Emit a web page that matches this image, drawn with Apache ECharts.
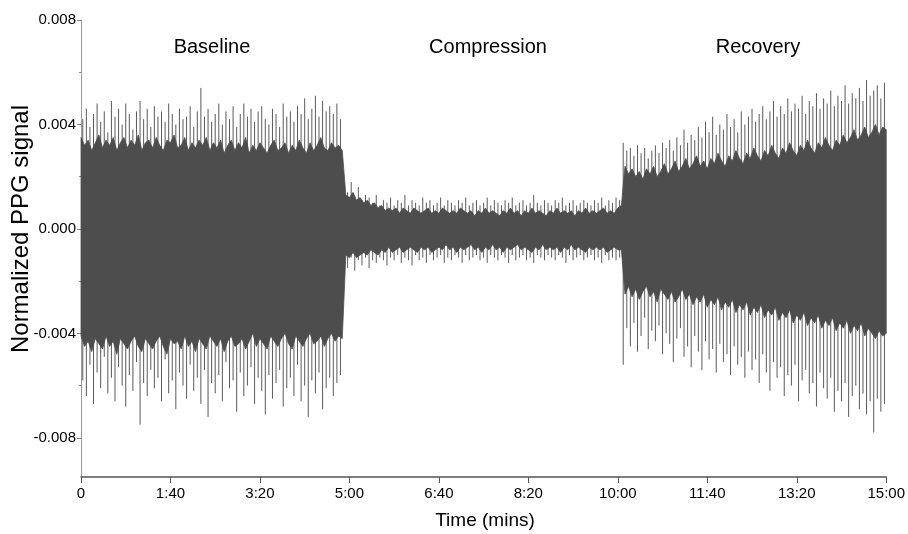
<!DOCTYPE html>
<html>
<head>
<meta charset="utf-8">
<script src="https://cdn.jsdelivr.net/npm/echarts@6/dist/echarts.min.js"></script>
<style>
html,body{margin:0;padding:0;background:#fff;}
#chart{width:908px;height:534px;}
</style>
</head>
<body>
<div id="chart"></div>
<script>
// ---- Data ----
var yTicks = [-0.008, -0.004, 0, 0.004, 0.008];
var yMinorTicks = [-0.006, -0.002, 0.002, 0.006];
var xTickStep = 100; // seconds between time labels (0, 1:40, 3:20 ...)
var phaseLabels = ['Baseline', 'Compression', 'Recovery'];

// Dense dark core band of the signal, one value per 4 s starting at t = 0 s
var coreStart = 0, coreStep = 4;
var baselineCoreHi = [0.0035,0.0032,0.0034,0.0030,0.0033,0.0036,0.0031,0.0034,0.0032,0.0035,
0.0030,0.0033,0.0035,0.0031,0.0034,0.0032,0.0036,0.0030,0.0033,0.0034,
0.0031,0.0035,0.0032,0.0030,0.0034,0.0033,0.0036,0.0031,0.0032,0.0035,
0.0030,0.0033,0.0031,0.0034,0.0032,0.0035,0.0030,0.0033,0.0031,0.0034,
0.0029,0.0032,0.0034,0.0030,0.0033,0.0031,0.0035,0.0029,0.0032,0.0030,
0.0033,0.0031,0.0029,0.0032,0.0034,0.0030,0.0031,0.0033,0.0029,0.0032,
0.0030,0.0034,0.0031,0.0029,0.0033,0.0030,0.0032,0.0035,0.0031,0.0030,
0.0033,0.0031,0.0032,0.0030];
var baselineCoreLo = [-0.0041,-0.0045,-0.0043,-0.0047,-0.0042,-0.0044,-0.0046,-0.0041,-0.0045,-0.0043,
-0.0048,-0.0042,-0.0044,-0.0046,-0.0043,-0.0041,-0.0045,-0.0047,-0.0042,-0.0044,
-0.0046,-0.0043,-0.0041,-0.0045,-0.0048,-0.0042,-0.0044,-0.0043,-0.0046,-0.0041,
-0.0045,-0.0043,-0.0047,-0.0042,-0.0044,-0.0046,-0.0041,-0.0043,-0.0045,-0.0042,
-0.0047,-0.0043,-0.0041,-0.0045,-0.0044,-0.0042,-0.0046,-0.0043,-0.0040,-0.0045,
-0.0042,-0.0044,-0.0046,-0.0041,-0.0043,-0.0045,-0.0042,-0.0040,-0.0044,-0.0046,
-0.0041,-0.0043,-0.0045,-0.0042,-0.0040,-0.0044,-0.0043,-0.0041,-0.0045,-0.0042,
-0.0040,-0.0043,-0.0041,-0.0042];
var compressionCoreHi = [0.0013,0.0012,0.0014,0.0011,0.0012,0.0010,0.0011,0.0009,0.0010,0.0008,
0.0009,0.0007,0.0008,0.0007,0.0008,0.0006,0.0008,0.0007,0.0006,0.0008,
0.0007,0.0006,0.0007,0.0008,0.0006,0.0007,0.0006,0.0008,0.0007,0.0006,
0.0007,0.0006,0.0008,0.0007,0.0006,0.0007,0.0005,0.0007,0.0006,0.0008,
0.0006,0.0007,0.0006,0.0005,0.0007,0.0006,0.0008,0.0006,0.0007,0.0005,
0.0007,0.0006,0.0008,0.0006,0.0007,0.0006,0.0005,0.0007,0.0006,0.0008,
0.0006,0.0007,0.0006,0.0007,0.0005,0.0007,0.0006,0.0008,0.0006,0.0007,
0.0006,0.0007,0.0008,0.0006,0.0007,0.0006,0.0008,0.0009];
var compressionCoreLo = [-0.0010,-0.0011,-0.0009,-0.0011,-0.0010,-0.0009,-0.0010,-0.0008,-0.0009,-0.0010,
-0.0008,-0.0009,-0.0007,-0.0009,-0.0008,-0.0007,-0.0009,-0.0008,-0.0007,-0.0008,
-0.0009,-0.0007,-0.0008,-0.0007,-0.0009,-0.0008,-0.0007,-0.0008,-0.0006,-0.0008,
-0.0007,-0.0009,-0.0007,-0.0008,-0.0007,-0.0006,-0.0008,-0.0007,-0.0009,-0.0007,
-0.0008,-0.0006,-0.0008,-0.0007,-0.0009,-0.0007,-0.0008,-0.0007,-0.0006,-0.0008,
-0.0007,-0.0008,-0.0009,-0.0007,-0.0008,-0.0006,-0.0008,-0.0007,-0.0008,-0.0007,
-0.0009,-0.0007,-0.0008,-0.0006,-0.0008,-0.0007,-0.0008,-0.0009,-0.0007,-0.0008,
-0.0007,-0.0008,-0.0007,-0.0009,-0.0008,-0.0007,-0.0008,-0.0008];
var recoveryCoreHi = [0.0024,0.0021,0.0023,0.0020,0.0022,0.0019,0.0023,0.0021,0.0024,0.0020,
0.0022,0.0025,0.0021,0.0023,0.0026,0.0022,0.0024,0.0027,0.0023,0.0025,
0.0028,0.0024,0.0026,0.0023,0.0027,0.0025,0.0029,0.0026,0.0024,0.0028,
0.0026,0.0030,0.0027,0.0025,0.0029,0.0027,0.0031,0.0028,0.0026,0.0030,
0.0028,0.0032,0.0029,0.0027,0.0031,0.0029,0.0033,0.0030,0.0028,0.0032,
0.0030,0.0034,0.0031,0.0029,0.0033,0.0031,0.0035,0.0032,0.0030,0.0034,
0.0032,0.0036,0.0033,0.0035,0.0038,0.0034,0.0036,0.0039,0.0035,0.0037,
0.0040,0.0036,0.0039,0.0038];
var recoveryCoreLo = [-0.0025,-0.0022,-0.0026,-0.0023,-0.0027,-0.0024,-0.0022,-0.0026,-0.0024,-0.0028,
-0.0023,-0.0025,-0.0027,-0.0024,-0.0028,-0.0026,-0.0023,-0.0027,-0.0025,-0.0029,
-0.0026,-0.0028,-0.0025,-0.0030,-0.0027,-0.0029,-0.0026,-0.0031,-0.0028,-0.0030,
-0.0027,-0.0032,-0.0029,-0.0031,-0.0028,-0.0033,-0.0030,-0.0032,-0.0029,-0.0034,
-0.0031,-0.0033,-0.0030,-0.0035,-0.0032,-0.0034,-0.0031,-0.0036,-0.0033,-0.0035,
-0.0032,-0.0037,-0.0034,-0.0036,-0.0033,-0.0038,-0.0035,-0.0037,-0.0034,-0.0039,
-0.0036,-0.0038,-0.0035,-0.0040,-0.0037,-0.0039,-0.0036,-0.0041,-0.0038,-0.0040,
-0.0042,-0.0039,-0.0041,-0.0040];

// Beat peaks that stick out of the core: one per 4 s, first at t = 2 s
var spikeStart = 2, spikeStep = 4;
var baselineHi = [0.0042,0.0046,0.0039,0.0044,0.0048,0.0041,0.0045,0.0037,0.0049,0.0043,
0.0046,0.0040,0.0048,0.0044,0.0038,0.0045,0.0049,0.0042,0.0046,0.0039,
0.0047,0.0043,0.0045,0.0041,0.0048,0.0044,0.0040,0.0046,0.0042,0.0043,
0.0047,0.0039,0.0045,0.0054,0.0043,0.0046,0.0041,0.0044,0.0048,0.0040,
0.0045,0.0042,0.0047,0.0039,0.0044,0.0048,0.0043,0.0046,0.0041,0.0045,
0.0047,0.0042,0.0040,0.0046,0.0044,0.0039,0.0048,0.0043,0.0045,0.0041,
0.0047,0.0044,0.0050,0.0042,0.0046,0.0051,0.0043,0.0049,0.0045,0.0047,
0.0044,0.0048,0.0042];
var baselineLo = [-0.0058,-0.0064,-0.0052,-0.0067,-0.0055,-0.0061,-0.0049,-0.0063,-0.0057,-0.0066,
-0.0053,-0.0060,-0.0068,-0.0056,-0.0062,-0.0051,-0.0075,-0.0059,-0.0064,-0.0054,
-0.0061,-0.0057,-0.0066,-0.0050,-0.0063,-0.0058,-0.0069,-0.0055,-0.0060,-0.0065,
-0.0052,-0.0062,-0.0057,-0.0067,-0.0054,-0.0072,-0.0059,-0.0063,-0.0056,-0.0066,
-0.0051,-0.0061,-0.0058,-0.0070,-0.0055,-0.0064,-0.0060,-0.0053,-0.0067,-0.0057,
-0.0062,-0.0071,-0.0056,-0.0065,-0.0059,-0.0054,-0.0068,-0.0061,-0.0057,-0.0064,
-0.0052,-0.0066,-0.0060,-0.0072,-0.0058,-0.0063,-0.0055,-0.0069,-0.0061,-0.0057,
-0.0064,-0.0059,-0.0056];
var compressionHi = [0.0017,0.0014,0.0018,0.0012,0.0016,0.0011,0.0013,0.0012,0.0010,0.0013,
0.0009,0.0011,0.0010,0.0012,0.0009,0.0011,0.0010,0.0013,0.0009,0.0011,
0.0010,0.0009,0.0012,0.0010,0.0011,0.0009,0.0010,0.0012,0.0009,0.0011,
0.0010,0.0009,0.0011,0.0010,0.0012,0.0009,0.0010,0.0011,0.0009,0.0010,
0.0012,0.0009,0.0011,0.0010,0.0009,0.0011,0.0010,0.0012,0.0009,0.0010,
0.0011,0.0009,0.0010,0.0013,0.0010,0.0009,0.0011,0.0010,0.0009,0.0011,
0.0010,0.0012,0.0009,0.0010,0.0011,0.0009,0.0010,0.0011,0.0010,0.0009,
0.0011,0.0010,0.0012,0.0009,0.0011,0.0010,0.0012,0.0011];
var compressionLo = [-0.0013,-0.0015,-0.0011,-0.0016,-0.0012,-0.0014,-0.0011,-0.0015,-0.0012,-0.0013,
-0.0011,-0.0012,-0.0014,-0.0011,-0.0012,-0.0010,-0.0013,-0.0011,-0.0012,-0.0014,
-0.0010,-0.0012,-0.0011,-0.0013,-0.0010,-0.0012,-0.0011,-0.0010,-0.0013,-0.0011,
-0.0012,-0.0010,-0.0011,-0.0013,-0.0010,-0.0012,-0.0011,-0.0010,-0.0012,-0.0011,
-0.0013,-0.0010,-0.0011,-0.0012,-0.0010,-0.0011,-0.0013,-0.0010,-0.0012,-0.0011,
-0.0010,-0.0012,-0.0011,-0.0013,-0.0010,-0.0011,-0.0012,-0.0010,-0.0011,-0.0012,
-0.0010,-0.0011,-0.0013,-0.0010,-0.0012,-0.0011,-0.0010,-0.0012,-0.0011,-0.0010,
-0.0012,-0.0011,-0.0013,-0.0010,-0.0012,-0.0011,-0.0012,-0.0011];
var recoveryHi = [0.0033,0.0030,0.0031,0.0028,0.0032,0.0029,0.0031,0.0027,0.0030,0.0032,
0.0029,0.0033,0.0031,0.0034,0.0030,0.0035,0.0032,0.0038,0.0033,0.0036,
0.0034,0.0039,0.0035,0.0041,0.0037,0.0043,0.0036,0.0040,0.0038,0.0044,
0.0039,0.0042,0.0037,0.0045,0.0040,0.0043,0.0046,0.0041,0.0044,0.0047,
0.0042,0.0045,0.0049,0.0043,0.0047,0.0044,0.0050,0.0045,0.0048,0.0046,
0.0051,0.0044,0.0049,0.0047,0.0052,0.0046,0.0050,0.0048,0.0053,0.0047,
0.0051,0.0049,0.0055,0.0048,0.0052,0.0050,0.0054,0.0049,0.0057,0.0051,
0.0053,0.0055,0.0050,0.0056];
var recoveryLo = [-0.0052,-0.0038,-0.0045,-0.0036,-0.0047,-0.0041,-0.0034,-0.0046,-0.0039,-0.0043,
-0.0037,-0.0048,-0.0040,-0.0044,-0.0051,-0.0042,-0.0038,-0.0049,-0.0045,-0.0053,
-0.0041,-0.0047,-0.0054,-0.0043,-0.0050,-0.0046,-0.0055,-0.0044,-0.0051,-0.0048,
-0.0056,-0.0045,-0.0052,-0.0049,-0.0057,-0.0047,-0.0054,-0.0050,-0.0059,-0.0048,
-0.0055,-0.0062,-0.0051,-0.0057,-0.0053,-0.0064,-0.0056,-0.0060,-0.0052,-0.0066,
-0.0058,-0.0054,-0.0063,-0.0059,-0.0068,-0.0055,-0.0061,-0.0065,-0.0057,-0.0070,
-0.0062,-0.0066,-0.0059,-0.0072,-0.0064,-0.0060,-0.0069,-0.0063,-0.0071,-0.0066,
-0.0078,-0.0065,-0.0070,-0.0067];

// ---- Build series data ----
var peakHi = baselineHi.concat(compressionHi, recoveryHi);
var peakLo = baselineLo.concat(compressionLo, recoveryLo);
var spikeData = peakHi.map(function (h, i) { return [spikeStart + i * spikeStep, peakLo[i], h]; });
var coreHi = baselineCoreHi.concat(compressionCoreHi, recoveryCoreHi);
var coreLo = baselineCoreLo.concat(compressionCoreLo, recoveryCoreLo);
var coreData = coreHi.map(function (h, i) { return [coreStart + i * coreStep, coreLo[i], h]; });

var FONT = '"Liberation Sans", Arial, sans-serif';
function fmtTime(v) {
  if (v === 0) return '0';
  var m = Math.floor(v / 60), s = Math.round(v - m * 60);
  return m + ':' + (s < 10 ? '0' + s : s);
}

var chart = echarts.init(document.getElementById('chart'), null, { renderer: 'canvas' });
chart.setOption({
  animation: false,
  backgroundColor: '#ffffff',
  grid: { left: 81, right: 19, top: 20, bottom: 57, containLabel: false },
  xAxis: {
    type: 'value', min: 0, max: 900, interval: xTickStep,
    axisLine: { show: true, onZero: false, lineStyle: { color: '#555', width: 1.5 } },
    axisTick: { show: true, inside: false, length: 6, lineStyle: { color: '#555' } },
    axisLabel: { color: '#000', fontFamily: FONT, fontSize: 15, margin: 9, formatter: fmtTime },
    splitLine: { show: false }
  },
  yAxis: [{
    type: 'value', min: -0.0095, max: 0.008,
    axisLine: { show: true, lineStyle: { color: '#9a9a9a', width: 1 } },
    axisTick: { show: true, length: 4, customValues: yTicks, lineStyle: { color: '#888' } },
    axisLabel: { color: '#000', fontFamily: FONT, fontSize: 15, margin: 5, customValues: yTicks,
      formatter: function (v) { return v.toFixed(3); } },
    splitLine: { show: false }
  }, {
    type: 'value', min: -0.0095, max: 0.008, position: 'left',
    axisLine: { show: false },
    axisTick: { show: true, length: 2, customValues: yMinorTicks, lineStyle: { color: '#888' } },
    axisLabel: { show: false },
    splitLine: { show: false }
  }],
  series: [{
    type: 'custom',
    name: 'peaks',
    data: spikeData,
    encode: { x: 0, y: [1, 2] },
    renderItem: function (params, api) {
      var a = api.coord([api.value(0), api.value(1)]);
      var b = api.coord([api.value(0), api.value(2)]);
      return { type: 'line', shape: { x1: a[0], y1: a[1], x2: b[0], y2: b[1] },
        style: { stroke: '#5a5a5a', lineWidth: 1 } };
    }
  }, {
    type: 'custom',
    name: 'core',
    data: coreData,
    encode: { x: 0, y: [1, 2] },
    renderItem: function (params, api) {
      if (params.dataIndex !== 0) return null;
      var pts = [], k;
      for (k = 0; k < coreData.length; k++) pts.push(api.coord([coreData[k][0], coreData[k][2]]));
      for (k = coreData.length - 1; k >= 0; k--) pts.push(api.coord([coreData[k][0], coreData[k][1]]));
      return { type: 'polygon', shape: { points: pts },
        style: { fill: '#4d4d4d', stroke: '#4d4d4d', lineWidth: 0.8 } };
    }
  }],
  graphic: [
    { type: 'text', x: 212, y: 47, style: { text: phaseLabels[0], font: '20px ' + FONT, fill: '#000', textAlign: 'center', textVerticalAlign: 'middle' } },
    { type: 'text', x: 488, y: 47, style: { text: phaseLabels[1], font: '20px ' + FONT, fill: '#000', textAlign: 'center', textVerticalAlign: 'middle' } },
    { type: 'text', x: 758, y: 47, style: { text: phaseLabels[2], font: '20px ' + FONT, fill: '#000', textAlign: 'center', textVerticalAlign: 'middle' } },
    { type: 'text', x: 485, y: 521, style: { text: 'Time (mins)', font: '19px ' + FONT, fill: '#000', textAlign: 'center', textVerticalAlign: 'middle' } },
    { type: 'text', x: 21, y: 229, rotation: Math.PI / 2, style: { text: 'Normalized PPG signal', font: '24px ' + FONT, fill: '#000', textAlign: 'center', textVerticalAlign: 'middle' } }
  ]
});
</script>
</body>
</html>
